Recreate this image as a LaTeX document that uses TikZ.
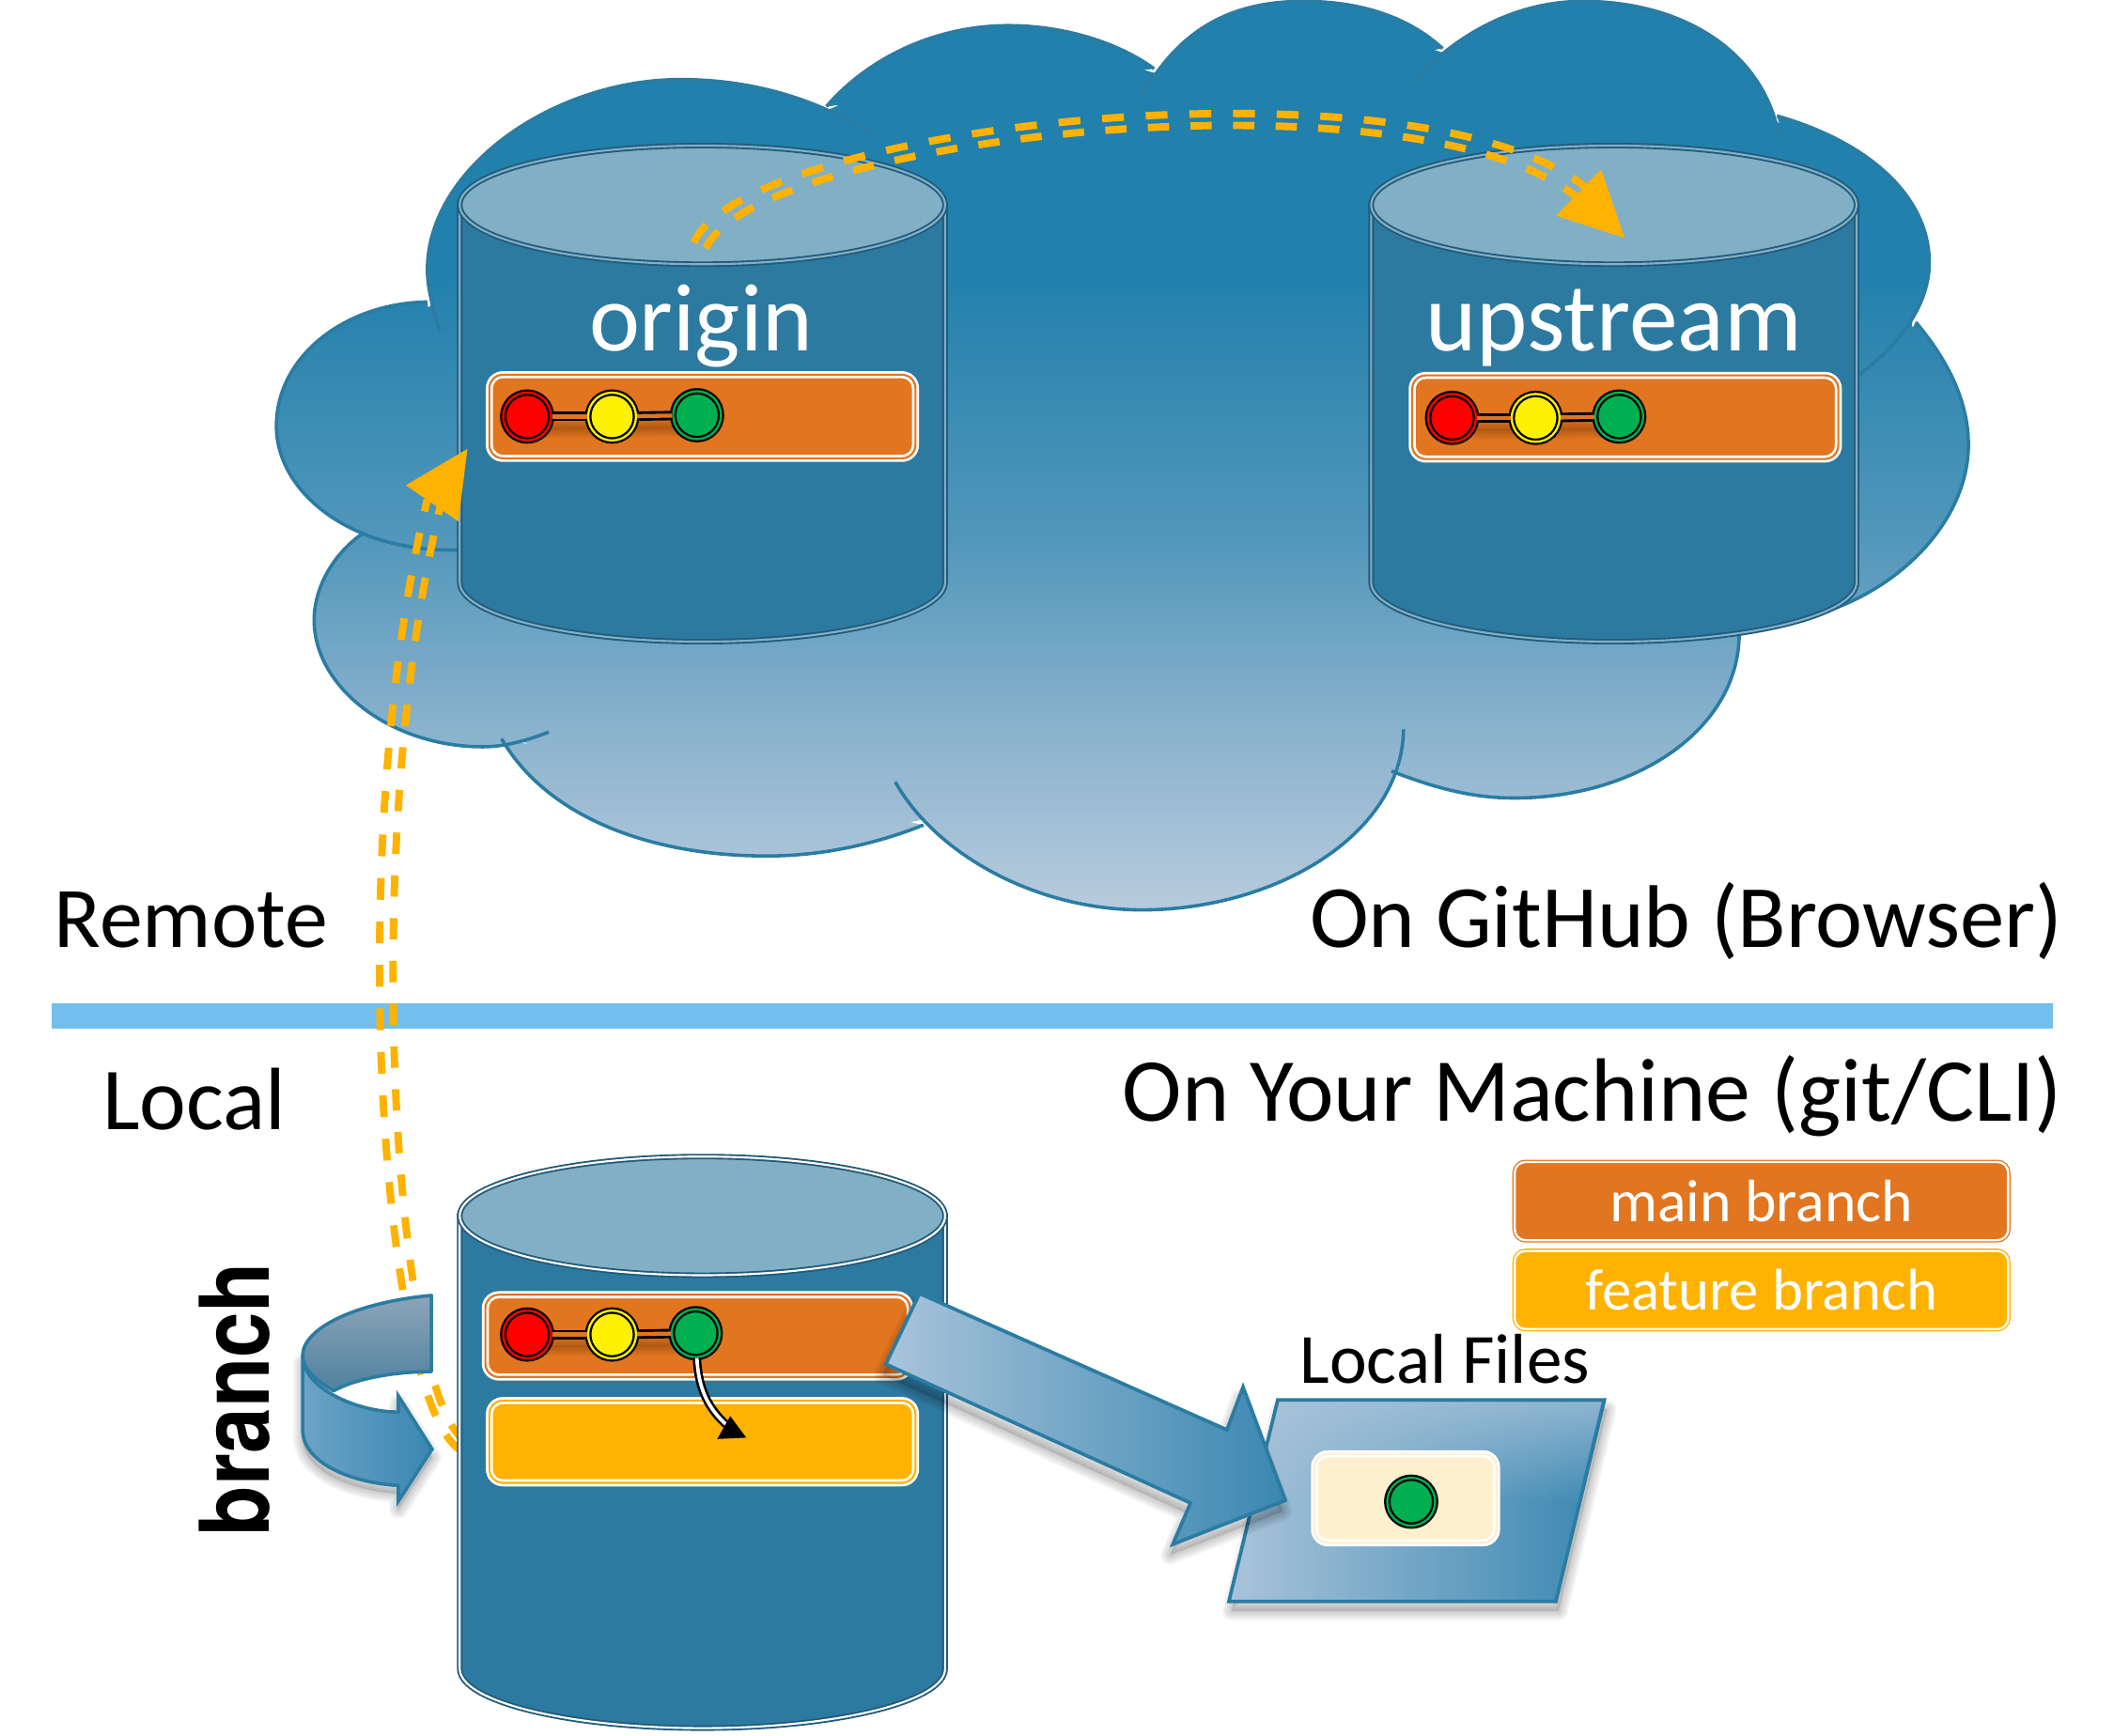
\documentclass[tikz,border=0pt]{standalone}
\usepackage{fontspec}
\usepackage{graphicx}
\setmainfont{Carlito}
\newfontfamily\boldfam{TeX Gyre Heros}[BoldFont=* Bold]
\usetikzlibrary{fadings}
\definecolor{cloudline}{HTML}{2A7CA3}
\definecolor{cyl}{HTML}{2D7AA1}
\definecolor{cyltop}{HTML}{81AFC6}
\definecolor{cyldark}{HTML}{225A7A}
\definecolor{mainc}{HTML}{E2751F}
\definecolor{featc}{HTML}{FFB200}
\definecolor{cream}{HTML}{FDF0CF}
\definecolor{rail}{HTML}{72BEEC}
\definecolor{gr}{HTML}{00B050}
\definecolor{blueL}{HTML}{A9C4DA}
\definecolor{blueM}{HTML}{6CA3C6}
\definecolor{blueD}{HTML}{3A87B1}
\definecolor{backT}{HTML}{8CA5B8}
\definecolor{backB}{HTML}{4F819F}
\pgfdeclareverticalshading{cloudsh}{100bp}{
  rgb(0bp)=(0.718,0.796,0.867);
  rgb(25bp)=(0.718,0.796,0.867);
  rgb(34.3bp)=(0.553,0.706,0.808);
  rgb(45.4bp)=(0.322,0.592,0.733);
  rgb(60.2bp)=(0.129,0.502,0.675);
  rgb(100bp)=(0.129,0.502,0.675)}
\tikzset{
  x=1pt,y=-1pt,
  cloudstroke/.style={draw=cloudline,line width=2.5pt,line cap=butt},
  bar/.style={rounded corners=10pt,draw=white,double=#1,fill=#1,line width=1.9pt,double distance=1.5pt,inner sep=0pt},
  legend/.style={rounded corners=8pt,draw=#1,double=white,fill=#1,line width=.9pt,double distance=1.6pt,inner sep=0pt,text=white},
  commit/.style={circle,draw=black,double=#1,fill=#1,line width=1.6pt,double distance=1.6pt,minimum size=35.5pt,inner sep=0pt},
  commitedge/.style={draw=black,double=mainc,line width=2pt,double distance=3pt},
  dashrail/.style={draw=featc,line width=5.5pt,dash pattern=on #1pt off #1pt},
  blabel/.style={inner sep=0pt,text=black},
}
\newcommand\fitw[2]{\resizebox{#1pt}{!}{#2}}
% cylinder: centre x, ellipse top y, ellipse bottom y, inner line colour
\newcommand\cylinder[4]{%
  \path[fill=cyl,draw=cyldark,double=#4,line width=1.3pt,double distance=1.5pt]
    (#1-180,#2) -- (#1-180,#3) arc[start angle=180,end angle=0,x radius=180,y radius=44] -- (#1+180,#2) -- cycle;
  \path[fill=cyltop,draw=cyldark,double=#4,line width=1.3pt,double distance=1.5pt]
    (#1,#2) ellipse[x radius=180,y radius=44];
}
\newcommand\softshadow[3]{%
  \begin{scope}[shift={(#1,#2)}]
  \foreach \w in {14,11,8,5,2}{\draw[black,opacity=.045,line width=\w pt,line join=round,fill=black,fill opacity=.025] #3;}
  \end{scope}
}
\def\lobeA{(326,246) .. controls (320,225) and (317,212) .. (317,200) .. controls (317,125) and (410,59) .. (505,59) .. controls (555,59) and (605,72) .. (649,101)}
\def\lobeB{(613,79) .. controls (645,42) and (695,19) .. (748,19) .. controls (790,19) and (830,32) .. (856,51)}
\def\lobeC{(846,73) .. controls (875,20) and (915,1) .. (967,1) .. controls (1010,1) and (1045,13) .. (1070,36)}
\def\lobeD{(1048,61) .. controls (1080,25) and (1125,1) .. (1174,1) .. controls (1250,1) and (1310,40) .. (1320,104)}
\def\lobeE{(1318,86) .. controls (1385,105) and (1431,145) .. (1431,195) .. controls (1431,225) and (1410,255) .. (1379,278)}
\def\lobeF{(1421,239) .. controls (1447,270) and (1460,300) .. (1460,330) .. controls (1460,385) and (1410,440) .. (1340,458) .. controls (1320,464) and (1305,468) .. (1290,470)}
\def\lobeG{(1290,470) .. controls (1290,540) and (1215,592) .. (1123,592) .. controls (1093,592) and (1065,585) .. (1032,572)}
\def\lobeH{(1041,541) .. controls (1040,620) and (945,675) .. (847,675) .. controls (770,675) and (695,635) .. (664,580)}
\def\lobeI{(685,612) .. controls (650,626) and (610,635) .. (569,635) .. controls (480,635) and (405,605) .. (372,548)}
\def\lobeJ{(407,543) .. controls (392,549) and (375,554) .. (358,554) .. controls (290,554) and (233,510) .. (233,460) .. controls (233,435) and (248,410) .. (270,395)}
\def\lobeK{(340,408) .. controls (260,410) and (205,365) .. (205,316) .. controls (205,265) and (255,225) .. (317,224)}
\begin{document}
\begin{tikzpicture}
\useasboundingbox (0,0) rectangle (1568,1287.2);
% cloud
\shade[shading=cloudsh]
  \lobeA -- cycle \lobeB -- cycle \lobeC -- cycle \lobeD -- cycle
  \lobeE -- cycle \lobeF -- cycle \lobeG -- cycle \lobeH -- cycle
  \lobeI -- cycle \lobeJ -- cycle \lobeK -- cycle
  (319,227) -- (490,64) -- (613,82) -- (748,24) -- (856,54) -- (967,6) -- (1070,39) -- (1174,6) -- (1317,89) -- (1425,195)
  -- (1418,241) -- (1455,330) -- (1340,453) -- (1290,467) -- (1123,587) -- (1034,568) -- (847,670) -- (685,608) -- (569,630)
  -- (376,545) -- (240,460) -- (272,397) -- (210,316) -- cycle;
\foreach \l in {\lobeA,\lobeB,\lobeC,\lobeD,\lobeE,\lobeF,\lobeG,\lobeH,\lobeI,\lobeJ,\lobeK}{\draw[cloudstroke] \l;}
% divider
\fill[rail] (38,744) rectangle (1523,763);
% dashed connector local -> origin (runs behind the local cylinder)
\draw[dashrail=15.87] (345,1069) .. controls (295.1,1037.2) and (263.4,640.4) .. (327.1,373.3);
\draw[dashrail=16.13] (342,1076) .. controls (284.9,1042.8) and (252.6,639.6) .. (316.9,370.7);
% cylinders
\cylinder{521}{152}{432}{cyltop}
\cylinder{1197}{152}{432}{cyltop}
\cylinder{521}{902}{1238}{white}
% labels
\node[anchor=base,text=white,inner sep=0pt] (lorigin) at (520,260) {\fitw{166}{origin}};
\node[anchor=base,text=white,inner sep=0pt] (lupstream) at (1197,260) {\fitw{279}{upstream}};
\node[blabel,anchor=base west] (lremote) at (40,703) {\fitw{203}{Remote}};
\node[blabel,anchor=base west] (llocal) at (76,838) {\fitw{136}{Local}};
\node[blabel,anchor=base east] (lgithub) at (1530,703) {\fitw{558}{On GitHub (Browser)}};
\node[blabel,anchor=base east] (lmachine) at (1530,832) {\fitw{697}{On Your Machine (git/CLI)}};
\node[blabel,anchor=base west] (lfiles) at (964,1026) {\fitw{215}{Local Files}};
\node[blabel,rotate=90,font=\boldfam\bfseries] (lbranch) at (174,1038) {\resizebox{203pt}{52pt}{branch}};
% legend
\node[legend=mainc,minimum width=366pt,minimum height=58pt] (legmain) at (1306.5,891) {\fitw{225}{main branch}};
\node[legend=featc,minimum width=366pt,minimum height=58pt] (legfeat) at (1306.5,957) {\fitw{261}{feature branch}};
% origin branch
\node[bar=mainc,minimum width=316pt,minimum height=62pt] (obar) at (521,309) {};
\softshadow{0}{9}{(391,309) -- (517,308)}
\node[commit=red] (o1) at (391,309) {};
\node[commit=yellow] (o2) at (454,309) {};
\node[commit=gr] (o3) at (517,308) {};
\draw[commitedge] (o1) -- (o2);
\draw[commitedge] (o2) -- (o3);
% upstream branch
\node[bar=mainc,minimum width=316pt,minimum height=62pt] (ubar) at (1205.5,309.5) {};
\softshadow{0}{9}{(1077,310) -- (1201,309)}
\node[commit=red] (u1) at (1077,310) {};
\node[commit=yellow] (u2) at (1139,310) {};
\node[commit=gr] (u3) at (1201,309) {};
\draw[commitedge] (u1) -- (u2);
\draw[commitedge] (u2) -- (u3);
% local branches
\node[bar=mainc,minimum width=315pt,minimum height=61pt] (lbar) at (517.5,991) {};
\node[bar=featc,minimum width=316pt,minimum height=61pt] (fbar) at (521,1069.5) {};
\softshadow{0}{9}{(391,990) -- (516,989)}
\node[commit=red] (l1) at (391,990) {};
\node[commit=yellow] (l2) at (454,990) {};
\node[commit=gr] (l3) at (516,989) {};
\draw[commitedge] (l1) -- (l2);
\draw[commitedge] (l2) -- (l3);
\coordinate (cb) at (540,1058);
\draw[draw=black,double=white,line width=1.8pt,double distance=2.6pt] (l3) .. controls (518,1030) and (525,1045) .. (cb);
\fill[black] (553.5,1066.5) -- (541.6,1050.5) -- (532,1067.5) -- cycle;
% dashed connector origin -> upstream
\draw[dashrail=16.2] (514.5,179.9) .. controls (556.7,87.3) and (1102.3,31.7) .. (1194,157);
\draw[dashrail=15.8] (523.5,184.1) .. controls (563.3,96.7) and (1097.7,42.3) .. (1186,163);
\fill[featc] (1205,176.5) -- (1187.6,125.7) -- (1154,160) -- cycle;
\fill[featc] (346.7,333) -- (301,360) -- (340,386.8) -- cycle;
% curved branch arrow
\softshadow{0}{6}{(224.5,1005.6) .. controls (224.5,1030) and (265,1047.5) .. (295.5,1047.5) -- (295.5,1035.6) -- (320.5,1075) -- (295.5,1113.6) -- (295.5,1102) .. controls (260,1100) and (224.5,1085) .. (224.5,1060.7) -- cycle}
\shade[bottom color=backB,top color=backT,draw=cloudline,line width=2.5pt,line join=round]
  (320,961) .. controls (265,966) and (224.5,985) .. (224.5,1005.6) .. controls (224.5,1015) and (234,1024) .. (247.4,1031.8)
  .. controls (265,1022) and (295,1017.5) .. (320,1017.5) -- cycle;
\shade[left color=blueM,right color=blueD,draw=cloudline,line width=2.5pt,line join=miter]
  (224.5,1005.6) .. controls (224.5,1030) and (265,1047.5) .. (295.5,1047.5) -- (295.5,1035.6) -- (320.5,1075) -- (295.5,1113.6) -- (295.5,1102)
  .. controls (260,1100) and (224.5,1085) .. (224.5,1060.7) -- cycle;
% files sheet
\softshadow{2}{7}{(947.7,1038.6) -- (1190,1038.6) -- (1154,1188) -- (911.5,1188) -- cycle}
\shade[left color=blueL,middle color=blueM,right color=blueD,draw=cloudline,line width=2.6pt]
  (947.7,1038.6) -- (1190,1038.6) -- (1154,1188) -- (911.5,1188) -- cycle;
\fill[blueL,path fading=south,opacity=.75]
  (949,1040) -- (1188,1040) -- (1170,1114) -- (930,1114) -- cycle;
\node[bar=cream,minimum width=135pt,minimum height=66pt] (fnode) at (1042.5,1111.5) {};
\node[commit=gr] (f1) at (1046.7,1114) {};
% big arrow
\softshadow{-2}{8}{(682,959.6) -- (910,1060.7) -- (922,1029) -- (953.4,1113) -- (869.9,1145.6) -- (883,1115) -- (657,1012) -- cycle}
\shade[left color=blueL,middle color=blueM,right color=blueD,draw=cloudline,line width=2.6pt,line join=miter]
  (682,959.6) -- (910,1060.7) -- (922,1029) -- (953.4,1113) -- (869.9,1145.6) -- (883,1115) -- (657,1012) -- cycle;
\end{tikzpicture}
\end{document}
